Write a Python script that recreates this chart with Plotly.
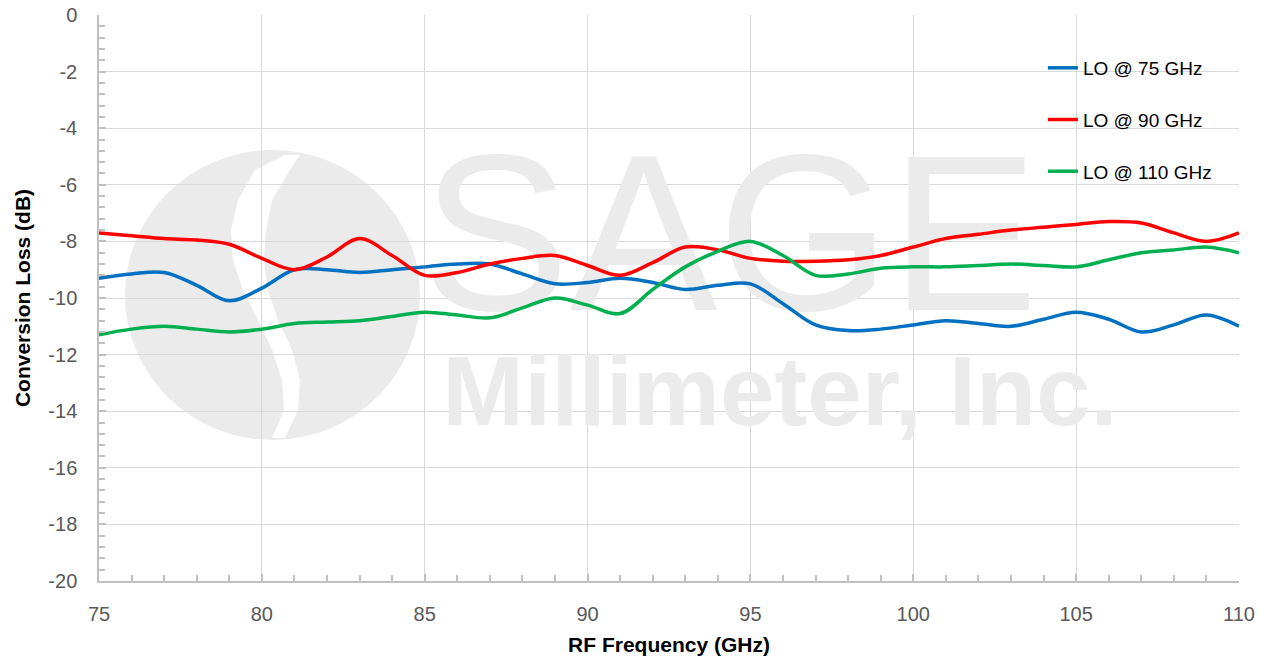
import plotly.graph_objects as go

# ---------------- data ----------------
freq = list(range(75, 111))  # RF frequency, GHz

lo75 = [-9.3, -9.15, -9.1, -9.55, -10.1, -9.65, -9.0, -9.0, -9.1, -9.0,
        -8.9, -8.8, -8.8, -9.15, -9.5, -9.45, -9.3, -9.45, -9.7, -9.55,
        -9.5, -10.2, -10.95, -11.15, -11.1, -10.95, -10.8, -10.9, -11.0, -10.75,
        -10.5, -10.75, -11.2, -10.95, -10.6, -11.0]

lo90 = [-7.7, -7.8, -7.9, -7.95, -8.1, -8.6, -9.0, -8.55, -7.9, -8.5,
        -9.2, -9.1, -8.8, -8.6, -8.5, -8.85, -9.2, -8.75, -8.2, -8.3,
        -8.6, -8.7, -8.7, -8.65, -8.5, -8.2, -7.9, -7.75, -7.6, -7.5,
        -7.4, -7.3, -7.35, -7.7, -8.0, -7.7]

lo110 = [-11.3, -11.1, -11.0, -11.1, -11.2, -11.1, -10.9, -10.85, -10.8, -10.65,
         -10.5, -10.6, -10.7, -10.35, -10.0, -10.25, -10.55, -9.7, -8.9, -8.35,
         -8.0, -8.5, -9.2, -9.15, -8.95, -8.9, -8.9, -8.85, -8.8, -8.85,
         -8.9, -8.65, -8.4, -8.3, -8.2, -8.4]

series_names = ["LO @ 75 GHz", "LO @ 90 GHz", "LO @ 110 GHz"]
series_values = [lo75, lo90, lo110]
series_colors = ["#0070C0", "#FF0000", "#00B050"]

x_ticks = [75, 80, 85, 90, 95, 100, 105, 110]
x_labels = ["75", "80", "85", "90", "95", "100", "105", "110"]
y_ticks = list(range(-20, 1, 2))
y_labels = ["-20", "-18", "-16", "-14", "-12", "-10", "-8", "-6", "-4", "-2", "0"]

# ---------------- layout geometry ----------------
OFF = 8                      # page body margin in the browser
W, H = 1268 - OFF, 660 - OFF
ML, MR, MT, MB = 99 - OFF, 29, 15 - OFF, 79
PW, PH = W - ML - MR, H - MT - MB
XR = [75, 110]
YR = [-20, 0]


def to_paper(sx, sy):
    """screen pixel -> paper coords of the plot area"""
    px, py = sx - OFF, sy - OFF
    return (px - ML) / PW, (H - MB - py) / PH


def to_data(sx, sy):
    xp, yp = to_paper(sx, sy)
    return XR[0] + xp * (XR[1] - XR[0]), YR[0] + yp * (YR[1] - YR[0])


fig = go.Figure()

# ---------------- watermark (decoration) ----------------
wm_color = "#EBEBEB"
shapes = []
x0, y0 = to_paper(125, 440)
x1, y1 = to_paper(420, 150)
shapes.append(dict(type="circle", xref="paper", yref="paper",
                   x0=x0, y0=y0, x1=x1, y1=y1,
                   fillcolor=wm_color, line=dict(width=0), layer="below"))
stripe = [(155, 285, 300), (170, 255, 290), (200, 238, 272), (230, 231, 266),
          (260, 233, 264), (290, 243, 268), (320, 258, 278), (350, 272, 292),
          (380, 282, 300), (410, 284, 298), (438, 272, 285)]
left = [to_paper(l, py) for py, l, r in stripe]
right = [to_paper(r, py) for py, l, r in stripe][::-1]
pts = left + right
path = "M " + " L ".join(f"{a:.4f},{b:.4f}" for a, b in pts) + " Z"
shapes.append(dict(type="path", xref="paper", yref="paper", path=path,
                   fillcolor="white", line=dict(width=0), layer="below"))

sx, sy = to_data(730, 254)
mx, my = to_data(780, 400)
fig.add_trace(go.Scatter(x=[sx], y=[sy], mode="text", text=["SAGE"],
                         textfont=dict(family="Liberation Sans", size=222, color=wm_color),
                         textposition="middle center", showlegend=False, hoverinfo="skip"))
fig.add_trace(go.Scatter(x=[mx], y=[my], mode="text", text=["<b>Millimeter, Inc.</b>"],
                         textfont=dict(family="Liberation Sans", size=98, color=wm_color),
                         textposition="middle center", showlegend=False, hoverinfo="skip"))

# ---------------- data traces ----------------
for i, (name, vals, col) in enumerate(zip(series_names, series_values, series_colors)):
    fig.add_trace(go.Scatter(x=freq, y=vals, mode="lines", name=name,
                             legendgroup=f"g{i}",
                             line=dict(color=col, width=3.5, shape="spline", smoothing=1.0)))

axis_col = "#BFBFBF"
grid_col = "#D9D9D9"
tick_font = dict(family="Liberation Sans", size=20, color="#595959")

fig.update_layout(
    width=W, height=H,
    margin=dict(l=ML, r=MR, t=MT, b=MB, autoexpand=False),
    paper_bgcolor="white", plot_bgcolor="white",
    shapes=shapes,
    showlegend=True,
    legend=dict(x=0.828, y=0.94, xanchor="left", yanchor="top",
                bgcolor="rgba(0,0,0,0)", tracegroupgap=24,
                font=dict(family="Liberation Sans", size=19, color="#000000")),
    xaxis=dict(range=XR, tickmode="array", tickvals=x_ticks, ticktext=x_labels,
               automargin=False, ticklabeloverflow="allow",
               showgrid=True, gridcolor=grid_col, gridwidth=1,
               showline=True, linecolor=axis_col, linewidth=1.5,
               ticks="inside", ticklen=7, tickcolor=axis_col, tickwidth=1.5,
               minor=dict(dtick=1, ticks="inside", ticklen=6, tickcolor=axis_col,
                          tickwidth=1.5, showgrid=False),
               tickfont=tick_font, ticklabelstandoff=14, zeroline=False,
               title=dict(text="<b>RF Frequency (GHz)</b>", standoff=14,
                          font=dict(family="Liberation Sans", size=21, color="#000000"))),
    yaxis=dict(range=YR, tickmode="array", tickvals=y_ticks, ticktext=y_labels,
               automargin=False, ticklabeloverflow="allow",
               showgrid=True, gridcolor=grid_col, gridwidth=1,
               showline=True, linecolor=axis_col, linewidth=1.5,
               ticks="inside", ticklen=7, tickcolor=axis_col, tickwidth=1.5,
               minor=dict(dtick=0.4, ticks="inside", ticklen=6, tickcolor=axis_col,
                          tickwidth=1.5, showgrid=False),
               tickfont=tick_font, ticklabelstandoff=16, zeroline=False,
               title=dict(text="<b>Conversion Loss (dB)</b>", standoff=12,
                          font=dict(family="Liberation Sans", size=21, color="#000000"))),
)

fig.write_html("out.html")
